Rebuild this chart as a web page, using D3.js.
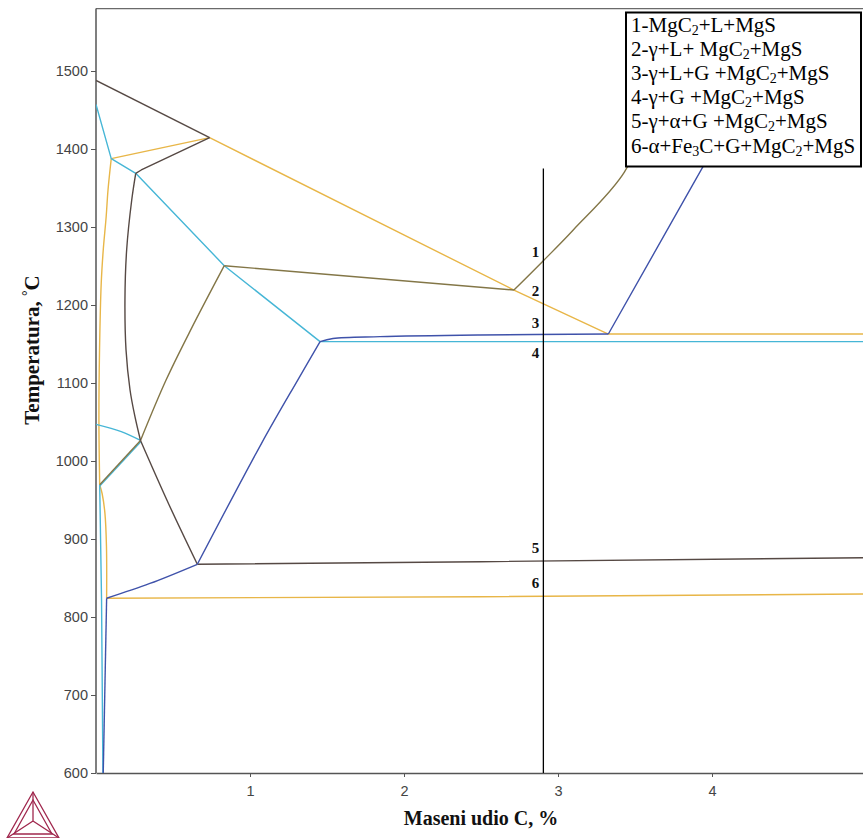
<!DOCTYPE html>
<html>
<head>
<meta charset="utf-8">
<script src="https://cdn.jsdelivr.net/npm/d3@7"></script>
<style>
  html, body { margin: 0; padding: 0; background: #fff; }
  svg { display: block; }
</style>
</head>
<body>
<svg id="chart" width="863" height="838"></svg>
<script>
// ---------- DATA (mass % C, temperature °C) ----------
const xTicks = [1, 2, 3, 4];
const yTicks = [600, 700, 800, 900, 1000, 1100, 1200, 1300, 1400, 1500];

// dark brown-grey boundaries
const darkLines = [
  [[0, 1488], [0.738, 1414.5]],
  [[0.738, 1414.5], [0.294, 1373.1], [0.258, 1368.8]],
  [[0.258, 1368.8], [0.232, 1334.6], [0.199, 1270.5], [0.188, 1206.4], [0.195, 1142.3], [0.221, 1091], [0.253, 1056.8], [0.289, 1026.3]],
  [[0.289, 1026.3], [0.475, 943.6], [0.658, 867.6]],
  [[0.658, 867.6], [2.494, 870.9], [5, 876]]
];
// cyan boundaries
const cyanLines = [
  [[0, 1457], [0.099, 1387.6], [0.258, 1368.8], [0.833, 1250.4], [1.455, 1153]],
  [[1.455, 1153], [5, 1153]],
  [[0, 1047], [0.164, 1037.6], [0.289, 1026.3]],
  [[0.289, 1024.3], [0.024, 967.8]],
  [[0.024, 969.6], [0.036, 821.8], [0.045, 600]]
];
// yellow boundaries
const yellowLines = [
  [[0.099, 1387.6], [0.738, 1414.5]],
  [[0.738, 1414.5], [2.714, 1219.2], [3.327, 1162.8], [5, 1162.8]],
  [[0.099, 1387.6], [0.078, 1347.4], [0.066, 1313.2], [0.047, 1270.5], [0.034, 1228.2], [0.023, 1142.3], [0.019, 1052.6], [0.024, 969.6]],
  [[0.024, 969.6], [0.04, 958], [0.058, 932.9], [0.068, 890], [0.069, 824]],
  [[0.069, 824], [2.494, 826], [5, 829.5]]
];
// olive boundaries
const oliveLines = [
  [[0.833, 1250.4], [2.714, 1219.2]],
  [[2.714, 1219.2], [2.905, 1256.8], [3.099, 1296.2], [3.43, 1370], [3.6, 1450]],
  [[0.833, 1250.4], [0.62, 1170], [0.455, 1103.8], [0.289, 1026.3]],
  [[0.289, 1026.3], [0.024, 969.6]]
];
// blue boundaries
const blueLines = [
  [[1.455, 1153], [1.539, 1157], [1.844, 1159.4], [2.494, 1161.5], [3.327, 1162.8]],
  [[3.327, 1162.8], [3.868, 1351.7], [4.15, 1450]],
  [[1.455, 1153], [1.31, 1103.8], [1.075, 1022.7], [0.658, 867.6]],
  [[0.658, 867.6], [0.35, 843], [0.069, 824]],
  [[0.069, 824], [0.047, 600]]
];
// which lines are smooth curves (others are straight segments with corners)
const smoothDark = [2, 3];
const smoothCyan = [2];
const smoothYellow = [2, 3];
const smoothOlive = [1, 2];
const smoothBlue = [0, 2, 3];

// isopleth section line and region labels
const sectionC = 2.905;
const sectionTop = 1375;
const regionLabels = ["1", "2", "3", "4", "5", "6"];
const regionLabelT = [1261, 1211, 1171, 1132, 882, 837];

const legendLines = [
  "1-MgC_2+L+MgS",
  "2-γ+L+ MgC_2+MgS",
  "3-γ+L+G +MgC_2+MgS",
  "4-γ+G +MgC_2+MgS",
  "5-γ+α+G +MgC_2+MgS",
  "6-α+Fe_3C+G+MgC_2+MgS"
];

const xTitle = "Maseni udio C, %";
const yTitle = "Temperatura, °C";

// ---------- DRAWING ----------
const svg = d3.select("#chart");
const x = d3.scaleLinear().domain([0, 5]).range([96, 866]);
const y = d3.scaleLinear().domain([600, 1580]).range([773, 8.6]);

svg.append("defs").append("clipPath").attr("id", "plotclip")
  .append("rect")
  .attr("x", x(0)).attr("y", y(1580))
  .attr("width", x(5) - x(0)).attr("height", y(600) - y(1580));

const serif = "'Liberation Serif', 'Times New Roman', serif";
const sans = "'Liberation Sans', Arial, sans-serif";

// frame: top line
svg.append("line")
  .attr("x1", x(0)).attr("x2", x(5))
  .attr("y1", y(1580)).attr("y2", y(1580))
  .attr("stroke", "#6a6a6a").attr("stroke-width", 1.3);

// axes
const fmt = d3.format("d");
const yAxis = d3.axisLeft(y).tickValues(yTicks).tickFormat(fmt).tickSize(5).tickPadding(3).tickSizeOuter(0);
const gy = svg.append("g").attr("transform", `translate(${x(0)},0)`).call(yAxis);
const xAxis = d3.axisBottom(x).tickValues(xTicks).tickFormat(fmt).tickSize(4).tickPadding(9).tickSizeOuter(0);
const gx = svg.append("g").attr("transform", `translate(0,${y(600)})`).call(xAxis);
[gx, gy].forEach(g => {
  g.select(".domain").attr("stroke", "#555").attr("stroke-width", 1.5);
  g.selectAll(".tick line").attr("stroke", "#555");
  g.selectAll(".tick text").attr("fill", "#444").style("font-family", sans).style("font-size", "14.5px");
});
gy.select(".domain").attr("d", `M0,${y(600)}V${y(1580)}`);

// boundary lines
const straight = d3.line().x(d => x(d[0])).y(d => y(d[1]));
const smooth = d3.line().x(d => x(d[0])).y(d => y(d[1])).curve(d3.curveCatmullRom.alpha(0.5));
const plot = svg.append("g").attr("clip-path", "url(#plotclip)");
const groups = [
  [yellowLines, smoothYellow, "#e8b648"],
  [cyanLines, smoothCyan, "#46b6d6"],
  [oliveLines, smoothOlive, "#837647"],
  [darkLines, smoothDark, "#564944"],
  [blueLines, smoothBlue, "#3f52aa"]
];
groups.forEach(([set, sm, color]) => {
  plot.selectAll(null).data(set).enter().append("path")
    .attr("d", (d, i) => (sm.includes(i) ? smooth : straight)(d))
    .attr("fill", "none")
    .attr("stroke", color)
    .attr("stroke-width", 1.4)
    .attr("stroke-linejoin", "round");
});

// section line
svg.append("line")
  .attr("x1", x(sectionC)).attr("x2", x(sectionC))
  .attr("y1", y(sectionTop)).attr("y2", y(600))
  .attr("stroke", "#000").attr("stroke-width", 1.3);

// region labels
svg.selectAll(null).data(regionLabels).enter().append("text")
  .attr("x", x(sectionC) - 4)
  .attr("y", (d, i) => y(regionLabelT[i]))
  .attr("text-anchor", "end")
  .style("font-family", serif).style("font-weight", "bold").style("font-size", "15px")
  .attr("fill", "#111")
  .text(d => d);

// legend box
const lg = svg.append("g");
lg.append("rect")
  .attr("x", 626).attr("y", 12.5).attr("width", 235).attr("height", 154)
  .attr("fill", "#fff").attr("stroke", "#000").attr("stroke-width", 2);
legendLines.forEach((s, i) => {
  const t = lg.append("text")
    .attr("x", 631).attr("y", 31.5 + i * 24.2)
    .style("font-family", serif).style("font-size", "21px").attr("fill", "#000");
  const parts = s.split(/(_\d)/).filter(p => p);
  let shift = 0;
  parts.forEach(p => {
    if (p.startsWith("_")) {
      t.append("tspan").attr("dy", 3 - shift).style("font-size", "14px").text(p.slice(1));
      shift = 3;
    } else {
      t.append("tspan").attr("dy", -shift).text(p);
      shift = 0;
    }
  });
});

// axis titles
svg.append("text")
  .attr("x", 481).attr("y", 825)
  .attr("text-anchor", "middle")
  .style("font-family", serif).style("font-weight", "bold").style("font-size", "20px")
  .attr("fill", "#111")
  .text(xTitle);
const yt = svg.append("text")
  .attr("transform", "translate(39,350) rotate(-90)")
  .attr("text-anchor", "middle")
  .style("font-family", serif).style("font-weight", "bold").style("font-size", "21px")
  .attr("fill", "#111");
yt.append("tspan").text(yTitle.slice(0, -2));
yt.append("tspan").attr("dy", -7).style("font-size", "14px").text(yTitle.slice(-2, -1));
yt.append("tspan").attr("dy", 7).text(yTitle.slice(-1));

// Thermo-Calc style logo
const logo = svg.append("g").attr("fill", "none").attr("stroke", "#a0284e").attr("stroke-width", 1.3);
const A = [33, 792], B = [7, 838], C = [59, 838], O = [33, 821];
logo.append("path").attr("d", `M${A}L${B}L${C}Z`);
logo.append("path").attr("d", `M${A}L${O}M${B}L${O}M${C}L${O}`);
logo.append("path").attr("d", `M33,800L14,834L52,834Z`);
</script>
</body>
</html>
